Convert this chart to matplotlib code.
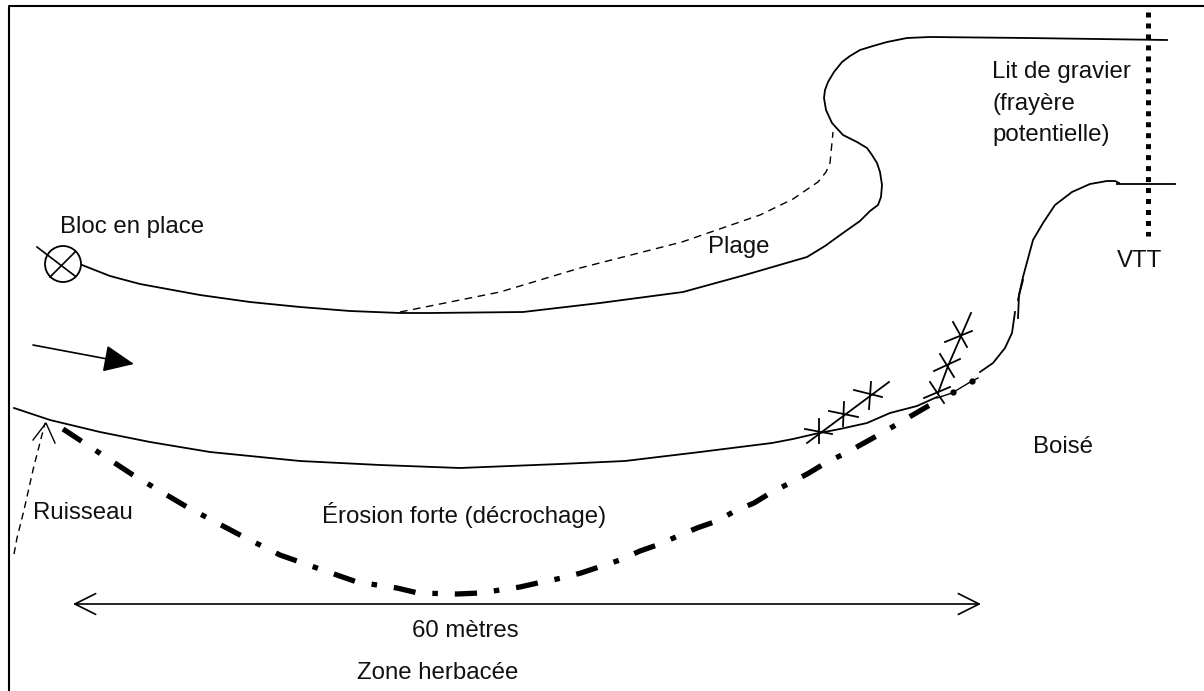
import matplotlib
matplotlib.use("Agg")
import matplotlib.pyplot as plt
from matplotlib.patches import Circle

# ==========================
# DATA (image pixel coordinates)
# ==========================
upper_bank_x = [82, 110, 140, 200, 250, 300, 350, 400, 430, 523, 600, 683, 745, 807, 825, 843, 860, 870, 878, 881,
                882, 880, 877, 872, 867, 857, 843, 832, 826, 824, 825, 828, 834, 842, 850, 860, 873, 887, 907, 930,
                1027, 1167]
upper_bank_y = [265, 276, 284, 295, 302, 307, 311, 313, 313, 312, 303, 292, 275, 257, 246, 233, 221, 211, 205, 197,
                185, 172, 163, 155, 148, 142, 135, 123, 110, 98, 90, 82, 72, 62, 56, 50, 46, 42, 38, 37,
                38, 40]

plage_x = [400, 500, 580, 682, 760, 793, 818, 826, 830, 833]
plage_y = [312, 292, 268, 242, 215, 199, 182, 172, 163, 132]

lower_bank_x = [14, 50, 100, 150, 210, 300, 380, 460, 560, 625, 700, 772, 793, 819, 840, 867, 890, 917, 937]
lower_bank_y = [408, 420, 432, 442, 452, 461, 465, 468, 464, 461, 452, 443, 439, 433, 429, 423, 413, 406, 397]

right_bank_a_x = [1018, 1023, 1033, 1043, 1055, 1072, 1090, 1107, 1115, 1119]
right_bank_a_y = [300, 277, 240, 223, 205, 192, 184, 181, 181, 183]
right_bank_b_x = [1015, 1012, 1005, 993, 980]
right_bank_b_y = [312, 333, 348, 363, 372]
right_bank_stub_x = [1023, 1019, 1018]
right_bank_stub_y = [280, 295, 318]

road_line_x = [1117, 1175]
road_line_y = [184, 184]

erosion_x = [63, 133, 187, 240, 280, 297, 334, 357, 397, 418, 457, 480, 520, 542, 562, 581, 602, 620, 640, 660,
             678, 697, 717, 735, 754, 772, 790, 809, 827, 846, 882, 935]
erosion_y = [429, 475, 507, 535, 555, 561, 574, 582, 588, 593, 594, 593, 587, 582, 578, 573, 566, 560, 551, 544,
             536, 528, 521, 511, 503, 492, 483, 473, 462, 453, 433, 402]
erosion_tail_x = [937, 952, 972, 978]
erosion_tail_y = [398, 393, 381, 378]
erosion_dots_x = [953, 972]
erosion_dots_y = [392, 381]

ruisseau_x = [14, 17, 24, 33, 45]
ruisseau_y = [554, 538, 510, 470, 423]
ruisseau_head_x = [33, 46, 55]
ruisseau_head_y = [440, 423, 443]

# fence lines and their cross strokes: (x0, y0, x1, y1)
fence_strokes = [
    (807, 443, 889, 382), (819, 419, 819, 443), (805, 429, 832, 434), (844, 402, 843, 426), (829, 411, 858, 417),
    (871, 382, 869, 409), (854, 390, 882, 397), (938, 393, 948, 366), (948, 366, 971, 313),
    (930, 382, 944, 403), (924, 398, 950, 387), (940, 354, 954, 377), (934, 371, 960, 359),
    (953, 322, 967, 347), (945, 342, 972, 331),
]

velo_x = [1148, 1148]
velo_y = [12, 236]

block_xy = (63, 264)
block_r = 18
block_cross = [(37, 247, 75, 276), (50, 277, 75, 252)]

flow_start = (33, 345)
flow_end = (134, 364)

span_left = 73
span_right = 981
span_y = 604

labels = [
    ("Bloc en place", 60, 233),
    ("Lit de gravier", 992, 78),
    ("(frayère", 992, 110),
    ("potentielle)", 992, 141),
    ("VTT", 1117, 267),
    ("Plage", 708, 253),
    ("Boisé", 1033, 453),
    ("Ruisseau", 33, 519),
    ("Érosion forte (décrochage)", 322, 523),
    ("60 mètres", 412, 637),
    ("Zone herbacée", 357, 679),
]

# ==========================
# Plotting
# ==========================
plt.rcParams["font.family"] = ["Liberation Sans", "DejaVu Sans"]
plt.rcParams["lines.scale_dashes"] = False

fig = plt.figure(figsize=(12.04, 6.91), dpi=100)
ax = fig.add_axes([0, 0, 1, 1])
ax.set_xlim(0, 1204)
ax.set_ylim(691, 0)
ax.axis("off")

thin = 1.3

# frame: only top and left sides are visible
ax.plot([9, 9, 1204], [691, 6, 6], color="black", lw=1.5)

ax.plot(upper_bank_x, upper_bank_y, color="black", lw=thin)
ax.plot(plage_x, plage_y, color="black", lw=1.0, dashes=(5.5, 4))
ax.plot(lower_bank_x, lower_bank_y, color="black", lw=thin)
ax.plot(right_bank_a_x, right_bank_a_y, color="black", lw=thin)
ax.plot(right_bank_b_x, right_bank_b_y, color="black", lw=thin)
ax.plot(right_bank_stub_x, right_bank_stub_y, color="black", lw=thin)
ax.plot(road_line_x, road_line_y, color="black", lw=thin)

# erosion scarp
ax.plot(erosion_x, erosion_y, color="black", lw=3.8, dashes=(16, 12.2, 4, 12.2), dash_capstyle="butt")
ax.plot(erosion_tail_x, erosion_tail_y, color="black", lw=1.0)
ax.plot(erosion_dots_x, erosion_dots_y, ls="none", marker="o", ms=3.5, color="black")

# ruisseau
ax.plot(ruisseau_x, ruisseau_y, color="black", lw=1.0, dashes=(5, 3.5))
ax.plot(ruisseau_head_x, ruisseau_head_y, color="black", lw=1.0)

for x0, y0, x1, y1 in fence_strokes:
    ax.plot([x0, x1], [y0, y1], color="black", lw=thin)

# VTT trail
ax.plot(velo_x, velo_y, color="black", lw=3.6, dashes=(3.6, 4.3), dash_capstyle="butt")

# block
ax.add_patch(Circle(block_xy, block_r, fill=False, ec="black", lw=1.3))
for x0, y0, x1, y1 in block_cross:
    ax.plot([x0, x1], [y0, y1], color="black", lw=1.2)

# flow arrow
ax.annotate("", xy=flow_end, xytext=flow_start,
            arrowprops=dict(arrowstyle="-|>,head_length=0.95,head_width=0.42", color="black",
                            lw=1.2, mutation_scale=20, shrinkA=0, shrinkB=0))

# 60 m span
ax.annotate("", xy=(span_left, span_y), xytext=(span_right, span_y),
            arrowprops=dict(arrowstyle="<->,head_length=1.0,head_width=0.5", color="black",
                            lw=1.2, mutation_scale=15, shrinkA=0, shrinkB=0))

for txt, x, y in labels:
    ax.text(x, y, txt, fontsize=17.3, color="#111111", ha="left", va="baseline")

fig.savefig("out.png", dpi=100)
